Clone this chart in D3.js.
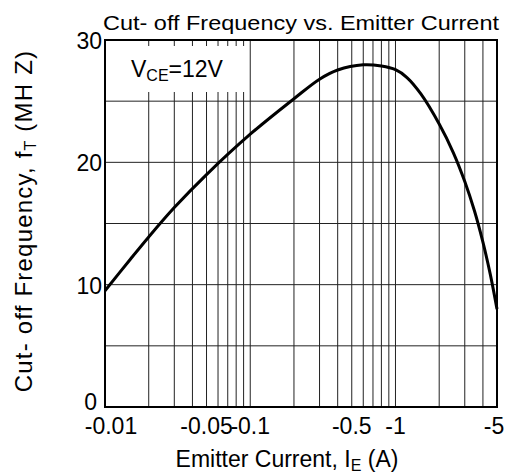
<!DOCTYPE html>
<html>
<head>
<meta charset="utf-8">
<script src="https://cdn.jsdelivr.net/npm/d3@7"></script>
<style>
  body { margin: 0; background: #fff; }
  text { font-family: "Liberation Sans", Arial, sans-serif; fill: #000; }
</style>
</head>
<body>
<script>
const width = 513, height = 475

// emitter current magnitude (A) and cut-off frequency (MHz)
const current = [0.01, 0.015, 0.02, 0.03, 0.05, 0.1, 0.2, 0.3, 0.4, 0.6, 0.8, 1.0, 1.2, 1.5, 2, 2.5, 3, 3.5, 4, 4.5, 5]
const freq = [9.5, 12.1, 13.9, 16.3, 19.0, 22.3, 25.2, 26.8, 27.55, 27.97, 27.87, 27.57, 26.93, 25.57, 23.13, 20.8, 18.43, 16.02, 13.47, 10.82, 8.0]

const xTicks = [0.01, 0.05, 0.1, 0.5, 1, 5]
const xTickLabels = ["-0.01", "-0.05", "-0.1", "-0.5", "-1", "-5"]
const xGrid = [0.02, 0.03, 0.04, 0.05, 0.06, 0.07, 0.08, 0.09, 0.1, 0.2, 0.3, 0.4, 0.5, 0.6, 0.7, 0.8, 0.9, 1, 2, 3, 4]
const yTicks = [0, 10, 20, 30]
const yGrid = [5, 10, 15, 20, 25]

const margin = {left: 105, right: 16, top: 40, bottom: 68}

let svg = d3.select("body")
    .append("svg")
    .attr("width", width)
    .attr("height", height)

const x = d3.scaleLog()
    .domain([0.01, 5])
    .range([margin.left, width - margin.right])

const y = d3.scaleLinear()
    .domain([0, 30])
    .range([height - margin.bottom, margin.top])

let g = svg.append("g")

// grid
g.selectAll(".vgrid").data(xGrid).join("line")
    .attr("x1", d => x(d)).attr("x2", d => x(d))
    .attr("y1", y(0)).attr("y2", y(30))
    .attr("stroke", "#222").attr("stroke-width", 1)

g.selectAll(".hgrid").data(yGrid).join("line")
    .attr("class", "hgrid")
    .attr("x1", x(0.01)).attr("x2", x(5))
    .attr("y1", d => y(d)).attr("y2", d => y(d))
    .attr("stroke", "#222").attr("stroke-width", 1)

// label box hides grid behind it
g.append("rect")
    .attr("x", x(0.01) + 2).attr("y", y(30) + 6)
    .attr("width", x(0.095) - x(0.01) - 4).attr("height", 46)
    .attr("fill", "#fff")

let lbl = g.append("text")
    .attr("x", x(0.01) + 26).attr("y", y(30) + 37)
    .attr("font-size", 23)
lbl.append("tspan").text("V")
lbl.append("tspan").attr("font-size", 16).attr("dy", 4).text("CE")
lbl.append("tspan").attr("dy", -4).text("=12V")

// curve
const line = d3.line()
    .x((d, i) => x(current[i]))
    .y(d => y(d))
    .curve(d3.curveCatmullRom.alpha(0.5))

g.append("path")
    .datum(freq)
    .attr("d", line)
    .attr("fill", "none")
    .attr("stroke", "#000")
    .attr("stroke-width", 3)
    .attr("stroke-linejoin", "round")

// frame
g.append("rect")
    .attr("x", x(0.01)).attr("y", y(30))
    .attr("width", x(5) - x(0.01)).attr("height", y(0) - y(30))
    .attr("fill", "none").attr("stroke", "#000").attr("stroke-width", 2)

// tick labels
g.selectAll(".xt").data(xTicks).join("text")
    .attr("x", d => x(d))
    .attr("dx", (d, i) => i == 0 ? 6 : (i == xTicks.length - 1 ? -3 : 0))
    .attr("y", y(0) + 27)
    .attr("text-anchor", "middle")
    .attr("font-size", 23)
    .text((d, i) => xTickLabels[i])

g.selectAll(".yt").data(yTicks).join("text")
    .attr("x", x(0.01) - 3)
    .attr("dx", d => d == 0 ? -5 : 0)
    .attr("y", d => y(d) + (d == 0 ? 3 : 9))
    .attr("text-anchor", "end")
    .attr("font-size", 23)
    .text(d => d)

// titles
svg.append("text")
    .attr("x", 301).attr("y", 30)
    .attr("text-anchor", "middle")
    .attr("font-size", 21)
    .attr("textLength", 396)
    .attr("lengthAdjust", "spacingAndGlyphs")
    .text("Cut- off Frequency vs. Emitter Current")

let xt = svg.append("text")
    .attr("x", 287).attr("y", 467)
    .attr("text-anchor", "middle")
    .attr("font-size", 23)
xt.append("tspan").text("Emitter Current, I")
xt.append("tspan").attr("font-size", 16).attr("dy", 4).text("E")
xt.append("tspan").attr("dy", -4).text(" (A)")

let yt = svg.append("text")
    .attr("transform", "translate(32,221) rotate(-90)")
    .attr("text-anchor", "middle")
    .attr("font-size", 24)
    .attr("letter-spacing", 1.2)
yt.append("tspan").text("Cut- off Frequency, f")
yt.append("tspan").attr("font-size", 16).attr("dy", 4).text("T")
yt.append("tspan").attr("dy", -4).text(" (MH Z)")
</script>
</body>
</html>
